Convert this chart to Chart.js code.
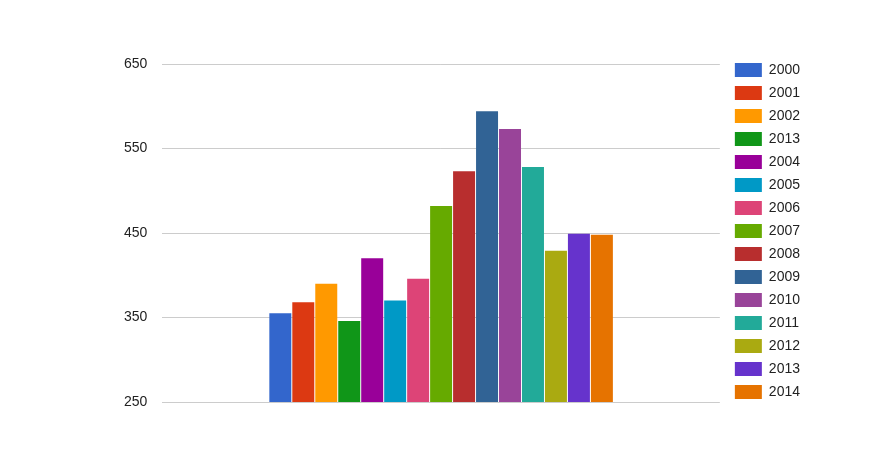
<!DOCTYPE html>
<html>
<head>
<meta charset="utf-8">
<script src="https://cdn.jsdelivr.net/npm/chart.js@4.4.0/dist/chart.umd.min.js"></script>
<style>
html,body{margin:0;padding:0;background:#fff;}
#wrap{width:873px;height:462px;position:relative;}
</style>
</head>
<body>
<div id="wrap"><canvas id="c" width="873" height="462"></canvas></div>
<script>
const categories = [""];
const seriesLabels = ["2000","2001","2002","2013","2004","2005","2006","2007","2008","2009","2010","2011","2012","2013","2014"];
const seriesValues = [355, 368, 390, 346, 420, 370, 396, 482, 523, 594, 573, 528, 429, 449, 448];
const seriesColors = ["#3366cc","#dc3912","#ff9900","#109618","#990099","#0099c6","#dd4477","#66aa00","#b82e2e","#316395","#994499","#22aa99","#aaaa11","#6633cc","#e67300"];
const yTicks = [250, 350, 450, 550, 650];

const FONT = 'Arial, "Liberation Sans", sans-serif';
const GAP = 6;
const CANVAS_H = 462;

const legendGap = {
  id: 'legendGap',
  afterInit(chart) {
    const lg = chart.legend;
    const f = lg.fit;
    lg.fit = function () {
      this.maxHeight = CANVAS_H;
      f.call(this);
      this.width += GAP;
    };
  },
  afterLayout(chart) {
    const lg = chart.legend;
    lg.left += GAP;
    lg.top = 0;
    lg.bottom = CANVAS_H;
    lg.height = CANVAS_H;
  }
};

new Chart(document.getElementById('c'), {
  type: 'bar',
  data: {
    labels: categories,
    datasets: seriesLabels.map((lab, i) => ({
      label: lab,
      data: [seriesValues[i]],
      backgroundColor: seriesColors[i],
      borderWidth: 0,
      barPercentage: 0.957,
      categoryPercentage: 0.618
    }))
  },
  options: {
    responsive: false,
    animation: false,
    layout: { padding: { left: 109, top: 64, bottom: 60, right: 63 } },
    plugins: {
      legend: {
        position: 'right',
        labels: {
          boxWidth: 27,
          boxHeight: 14,
          padding: 9,
          color: '#222',
          font: { family: FONT, size: 14 }
        }
      },
      tooltip: { enabled: false }
    },
    scales: {
      x: { display: false },
      y: {
        min: 250,
        max: 650,
        afterBuildTicks(axis) { axis.ticks = yTicks.map(v => ({ value: v })); },
        border: { display: false },
        grid: { color: '#cccccc', lineWidth: 1, drawTicks: false },
        ticks: { padding: 15, color: '#222', font: { family: FONT, size: 14 } }
      }
    }
  },
  plugins: [legendGap]
});
</script>
</body>
</html>
